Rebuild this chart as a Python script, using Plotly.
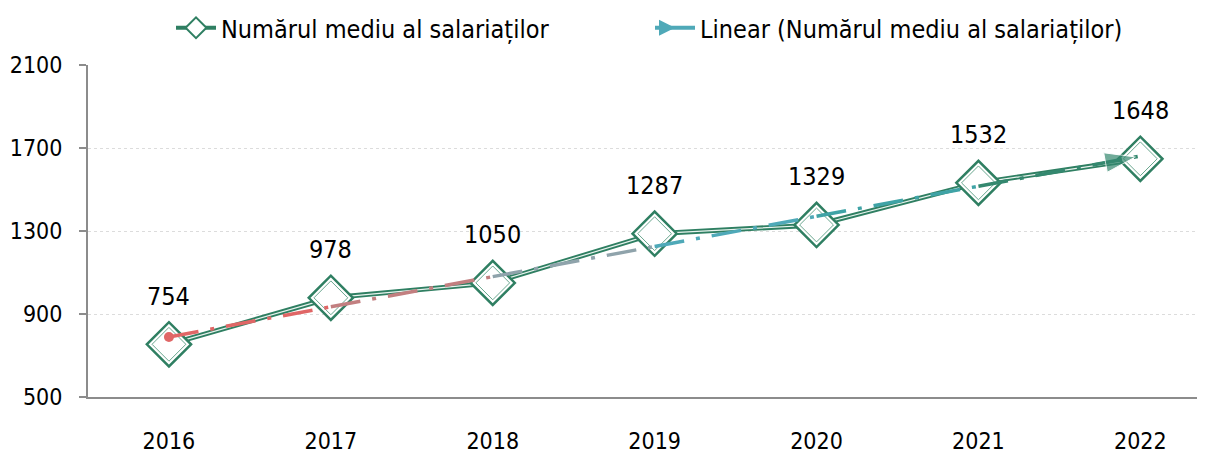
import numpy as np
import plotly.graph_objects as go

years = [2016, 2017, 2018, 2019, 2020, 2021, 2022]
values = [754, 978, 1050, 1287, 1329, 1532, 1648]
series_name = "Numărul mediu al salariaților"
trend_name = "Linear (Numărul mediu al salariaților)"
y_ticks = [500, 900, 1300, 1700, 2100]
trend_colors = ["#e06666", "#c27f80", "#8fa3ab", "#4fa9b8", "#3fa3a6", "#34886f"]

FONT = "DejaVu Sans Condensed, Liberation Sans Narrow, Arial Narrow, sans-serif"
GREEN = "#2f7f62"

# linear fit (computed from the data)
xi = np.arange(len(years))
slope, intercept = np.polyfit(xi, values, 1)
trend = intercept + slope * xi

fig = go.Figure()

# main series: double line effect
fig.add_trace(go.Scatter(x=years, y=values, mode="lines", line=dict(color=GREEN, width=5),
                         showlegend=False, hoverinfo="skip"))
fig.add_trace(go.Scatter(x=years, y=values, mode="lines", line=dict(color="#e8f3ee", width=1.2),
                         showlegend=False, hoverinfo="skip"))
fig.add_trace(go.Scatter(x=years, y=values, mode="markers", name=series_name,
                         marker=dict(symbol="diamond", size=34, color="white",
                                     line=dict(color=GREEN, width=2.5)),
                         showlegend=False))
fig.add_trace(go.Scatter(x=years, y=values, mode="markers", showlegend=False, hoverinfo="skip",
                         marker=dict(symbol="diamond", size=26, color="rgba(255,255,255,0)",
                                     line=dict(color="#6aa78f", width=1))))

# trend line: gradient segments
n = len(years)
for i in range(n - 1):
    xs = [years[i], years[i + 1]]
    ys = [trend[i], trend[i + 1]]
    fig.add_trace(go.Scatter(x=xs, y=ys, mode="lines", showlegend=False, hoverinfo="skip",
                             line=dict(color=trend_colors[i], width=3.5, dash="30px,12px,4px,12px")))
# start dot and end arrow
fig.add_trace(go.Scatter(x=[years[0]], y=[trend[0]], mode="markers", showlegend=False, hoverinfo="skip",
                         marker=dict(symbol="circle", size=10, color=trend_colors[0])))
fig.add_trace(go.Scatter(x=[years[-2], years[-1]], y=[trend[-2], trend[-1]], mode="markers",
                         showlegend=False, hoverinfo="skip",
                         marker=dict(symbol=["circle", "arrow"], size=[0, 32], color=trend_colors[-1],
                                     angleref="previous", standoff=[0, 5])))

# legend entries
fig.add_trace(go.Scatter(x=[None], y=[None], mode="lines+markers", name=series_name,
                         line=dict(color=GREEN, width=4),
                         marker=dict(symbol="diamond", size=16, color="white",
                                     line=dict(color=GREEN, width=2))))
fig.add_trace(go.Scatter(x=[None], y=[None], mode="lines+markers", name=trend_name,
                         line=dict(color="#4fa9b8", width=4),
                         marker=dict(symbol="arrow-right", size=16, color="#4fa9b8")))

# data labels
for x, v in zip(years, values):
    fig.add_annotation(x=x, y=v, text=str(v), showarrow=False, yshift=48,
                       font=dict(family=FONT, size=25, color="black"))

W, H = 1200, 446  # page body adds an 8px offset
fig.update_layout(
    width=W, height=H,
    margin=dict(l=80, r=11, t=57, b=57, autoexpand=False),
    paper_bgcolor="white", plot_bgcolor="white",
    font=dict(family=FONT, size=23, color="black"),
    showlegend=True,
    legend=dict(orientation="h", xref="container", yref="container",
                x=163 / W, xanchor="left", y=1 - 20 / H, yanchor="middle",
                font=dict(family=FONT, size=25, color="black"), entrywidth=424, itemwidth=40),
)
fig.update_xaxes(range=[2015.5, 2022.35], tickvals=years, ticktext=[str(y) for y in years],
                 showgrid=False, showline=True, linecolor="#8c8c8c", linewidth=2,
                 ticks="", ticklabelstandoff=22, zeroline=False, automargin=False)
fig.update_yaxes(range=[500, 2100], tickvals=y_ticks, ticktext=[str(t) for t in y_ticks],
                 showgrid=True, gridcolor="#dcdcdc", gridwidth=1, griddash="dot",
                 showline=True, linecolor="#8c8c8c", linewidth=2,
                 ticks="outside", ticklen=7, tickcolor="#8c8c8c", tickwidth=1.5,
                 ticklabelstandoff=12, zeroline=False, automargin=False)

fig.write_html("out.html")
